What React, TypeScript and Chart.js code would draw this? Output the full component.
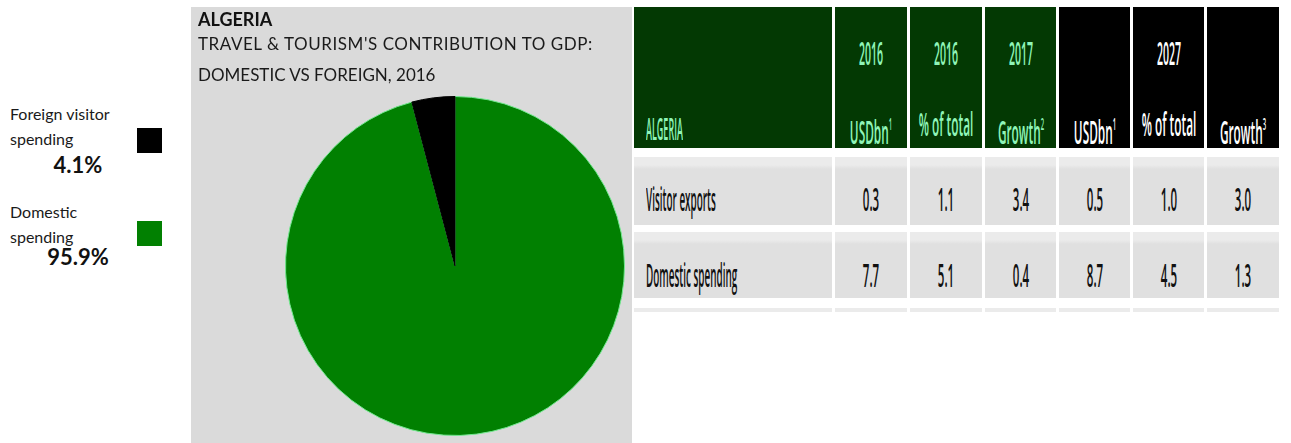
import React, { useEffect, useRef } from "react";
import { Chart, registerables } from "chart.js";

Chart.register(...registerables);

// ---------- data ----------
const titleLines = ["ALGERIA", "TRAVEL & TOURISM'S CONTRIBUTION TO GDP:", "DOMESTIC VS FOREIGN, 2016"];

const sliceLabels = ["Domestic spending", "Foreign visitor spending"];
const sliceValues = [95.9, 4.1];
const sliceColors = ["#018001", "#000000"];
const sliceBorders = ["#72e88f", "#000000"];

const legendLines = [["Foreign visitor", "spending"], ["Domestic", "spending"]];
const legendOrder = [1, 0];

const tableTitle = "ALGERIA";
const headTop = ["2016", "2016", "2017", "", "2027", ""];
const headBottom = ["USDbn", "% of total", "Growth", "USDbn", "% of total", "Growth"];
const headSup = ["1", "", "2", "1", "", "3"];
const rowLabels = ["Visitor exports", "Domestic spending"];
const usd2016 = [0.3, 7.7];
const pct2016 = [1.1, 5.1];
const growth2017 = [3.4, 0.4];
const usd2027 = [0.5, 8.7];
const pct2027 = [1.0, 4.5];
const growth2027 = [3.0, 1.3];
const columns = [usd2016, pct2016, growth2017, usd2027, pct2027, growth2027];

// ---------- layout ----------
const PANEL = { left: 191, top: 7, width: 441, height: 436 };
const colEdges = [
  [634, 832],
  [835, 907],
  [910, 982],
  [985, 1056],
  [1059, 1130],
  [1133, 1204],
  [1207, 1279],
];
const rowBoxes = [
  [7, 148],
  [157, 225],
  [232, 298],
  [308, 312],
];

const leftText = (content: React.ReactNode, sx: number) => (
  <span style={{ display: "inline-block", transform: `scaleX(${sx})`, transformOrigin: "left", whiteSpace: "nowrap" }}>
    {content}
  </span>
);

const centerText = (content: React.ReactNode, sx: number) => (
  <span
    style={{
      position: "absolute",
      left: "50%",
      top: 0,
      display: "inline-block",
      transform: `translateX(-50%) scaleX(${sx})`,
      transformOrigin: "center",
      whiteSpace: "nowrap",
    }}
  >
    {content}
  </span>
);

export default function App() {
  const ref = useRef<HTMLCanvasElement | null>(null);

  useEffect(() => {
    document.body.style.margin = "0";
    const ctx = ref.current!.getContext("2d")!;
    const chart = new Chart(ctx, {
      type: "pie",
      data: {
        labels: sliceLabels,
        datasets: [
          {
            data: sliceValues,
            backgroundColor: sliceColors,
            borderColor: sliceBorders,
            borderWidth: 1,
          },
        ],
      },
      options: {
        responsive: false,
        animation: false,
        layout: { padding: { left: 94, right: 7, top: 89, bottom: 7 } },
        plugins: { legend: { display: false }, tooltip: { enabled: false } },
      },
    });
    return () => chart.destroy();
  }, []);

  const lato = "Lato, 'Open Sans', sans-serif";
  const cond = "'Open Sans', sans-serif";

  const legendTops = [
    { lines: [106, 131], pct: 154, sq: 128 },
    { lines: [204, 229], pct: 246, sq: 221 },
  ];

  return (
    <div style={{ position: "absolute", left: 0, top: 0, width: 1291, height: 443, background: "#fff", overflow: "hidden" }}>
      {/* legend */}
      {legendOrder.map((idx, i) => {
        const pos = legendTops[i];
        return (
          <React.Fragment key={"lg" + i}>
            {legendLines[i].map((t, j) => (
              <div key={j} style={{ position: "absolute", left: 10, top: pos.lines[j], font: `16px ${lato}`, lineHeight: "16px", color: "#1a1a1a", whiteSpace: "nowrap" }}>
                {t}
              </div>
            ))}
            <div style={{ position: "absolute", left: 28, width: 100, textAlign: "center", top: pos.pct, font: `bold 22px ${lato}`, lineHeight: "22px", color: "#111" }}>
              {sliceValues[idx].toFixed(1)}%
            </div>
            <div style={{ position: "absolute", left: 137, top: pos.sq, width: 25, height: 25, background: sliceColors[idx] }} />
          </React.Fragment>
        );
      })}

      {/* gray panel */}
      <div style={{ position: "absolute", left: PANEL.left, top: PANEL.top, width: PANEL.width, height: PANEL.height, background: "#dadada" }}>
        <canvas ref={ref} width={PANEL.width} height={PANEL.height} style={{ position: "absolute", left: 0, top: 0 }} />
      </div>
      <div style={{ position: "absolute", left: 198, top: 10, font: `bold 18px ${lato}`, lineHeight: "18px", color: "#111" }}>{titleLines[0]}</div>
      <div style={{ position: "absolute", left: 198, top: 35, font: `17px ${lato}`, lineHeight: "17px", letterSpacing: "0.55px", color: "#1a1a1a", whiteSpace: "nowrap" }}>{titleLines[1]}</div>
      <div style={{ position: "absolute", left: 198, top: 66, font: `17px ${lato}`, lineHeight: "17px", color: "#1a1a1a", whiteSpace: "nowrap" }}>{titleLines[2]}</div>

      {/* table header */}
      {colEdges.map(([l, r], c) => {
        const green = c <= 3;
        const [t, b] = rowBoxes[0];
        const color = green ? "#8ff5b8" : "#ffffff";
        return (
          <div key={"h" + c} style={{ position: "absolute", left: l, top: t, width: r - l, height: b - t, background: green ? "#033903" : "#000" }}>
            {c === 0 ? (
              <div style={{ position: "absolute", left: 12, top: 107, font: `600 30px ${cond}`, lineHeight: "30px", color }}>{leftText(tableTitle, 0.3)}</div>
            ) : (
              <>
                <div style={{ position: "absolute", left: 0, width: r - l, height: 32, top: 30, font: `600 32px ${cond}`, lineHeight: "32px", color }}>
                  {centerText(headTop[c - 1], 0.33)}
                </div>
                <div style={{ position: "absolute", left: 0, width: r - l, height: 32, top: 101, font: `600 32px ${cond}`, lineHeight: "32px", color }}>
                  {centerText(
                    <>
                      {headBottom[c - 1]}
                      {headSup[c - 1] ? <sup style={{ fontSize: "16px", verticalAlign: "14px" }}>{headSup[c - 1]}</sup> : null}
                    </>,
                    0.37
                  )}
                </div>
              </>
            )}
          </div>
        );
      })}

      {/* table body */}
      {rowBoxes.slice(1).map(([t, b], ri) =>
        colEdges.map(([l, r], c) => {
          const hasText = ri < rowLabels.length;
          const textTop = ri === 0 ? 26 : 27;
          return (
            <div key={"r" + ri + "c" + c} style={{ position: "absolute", left: l, top: t, width: r - l, height: b - t, background: "linear-gradient(#ebebeb 0px, #ebebeb 8px, #e0e0e0 12px, #e0e0e0 100%)" }}>
              {hasText && c === 0 ? (
                <div style={{ position: "absolute", left: 12, top: textTop, font: `600 32px ${cond}`, lineHeight: "32px", color: "#111" }}>
                  {leftText(rowLabels[ri], 0.31)}
                </div>
              ) : null}
              {hasText && c > 0 ? (
                <div style={{ position: "absolute", left: 0, width: r - l, height: 32, top: textTop, font: `600 32px ${cond}`, lineHeight: "32px", color: "#111" }}>
                  {centerText(columns[c - 1][ri].toFixed(1), 0.36)}
                </div>
              ) : null}
            </div>
          );
        })
      )}
    </div>
  );
}
